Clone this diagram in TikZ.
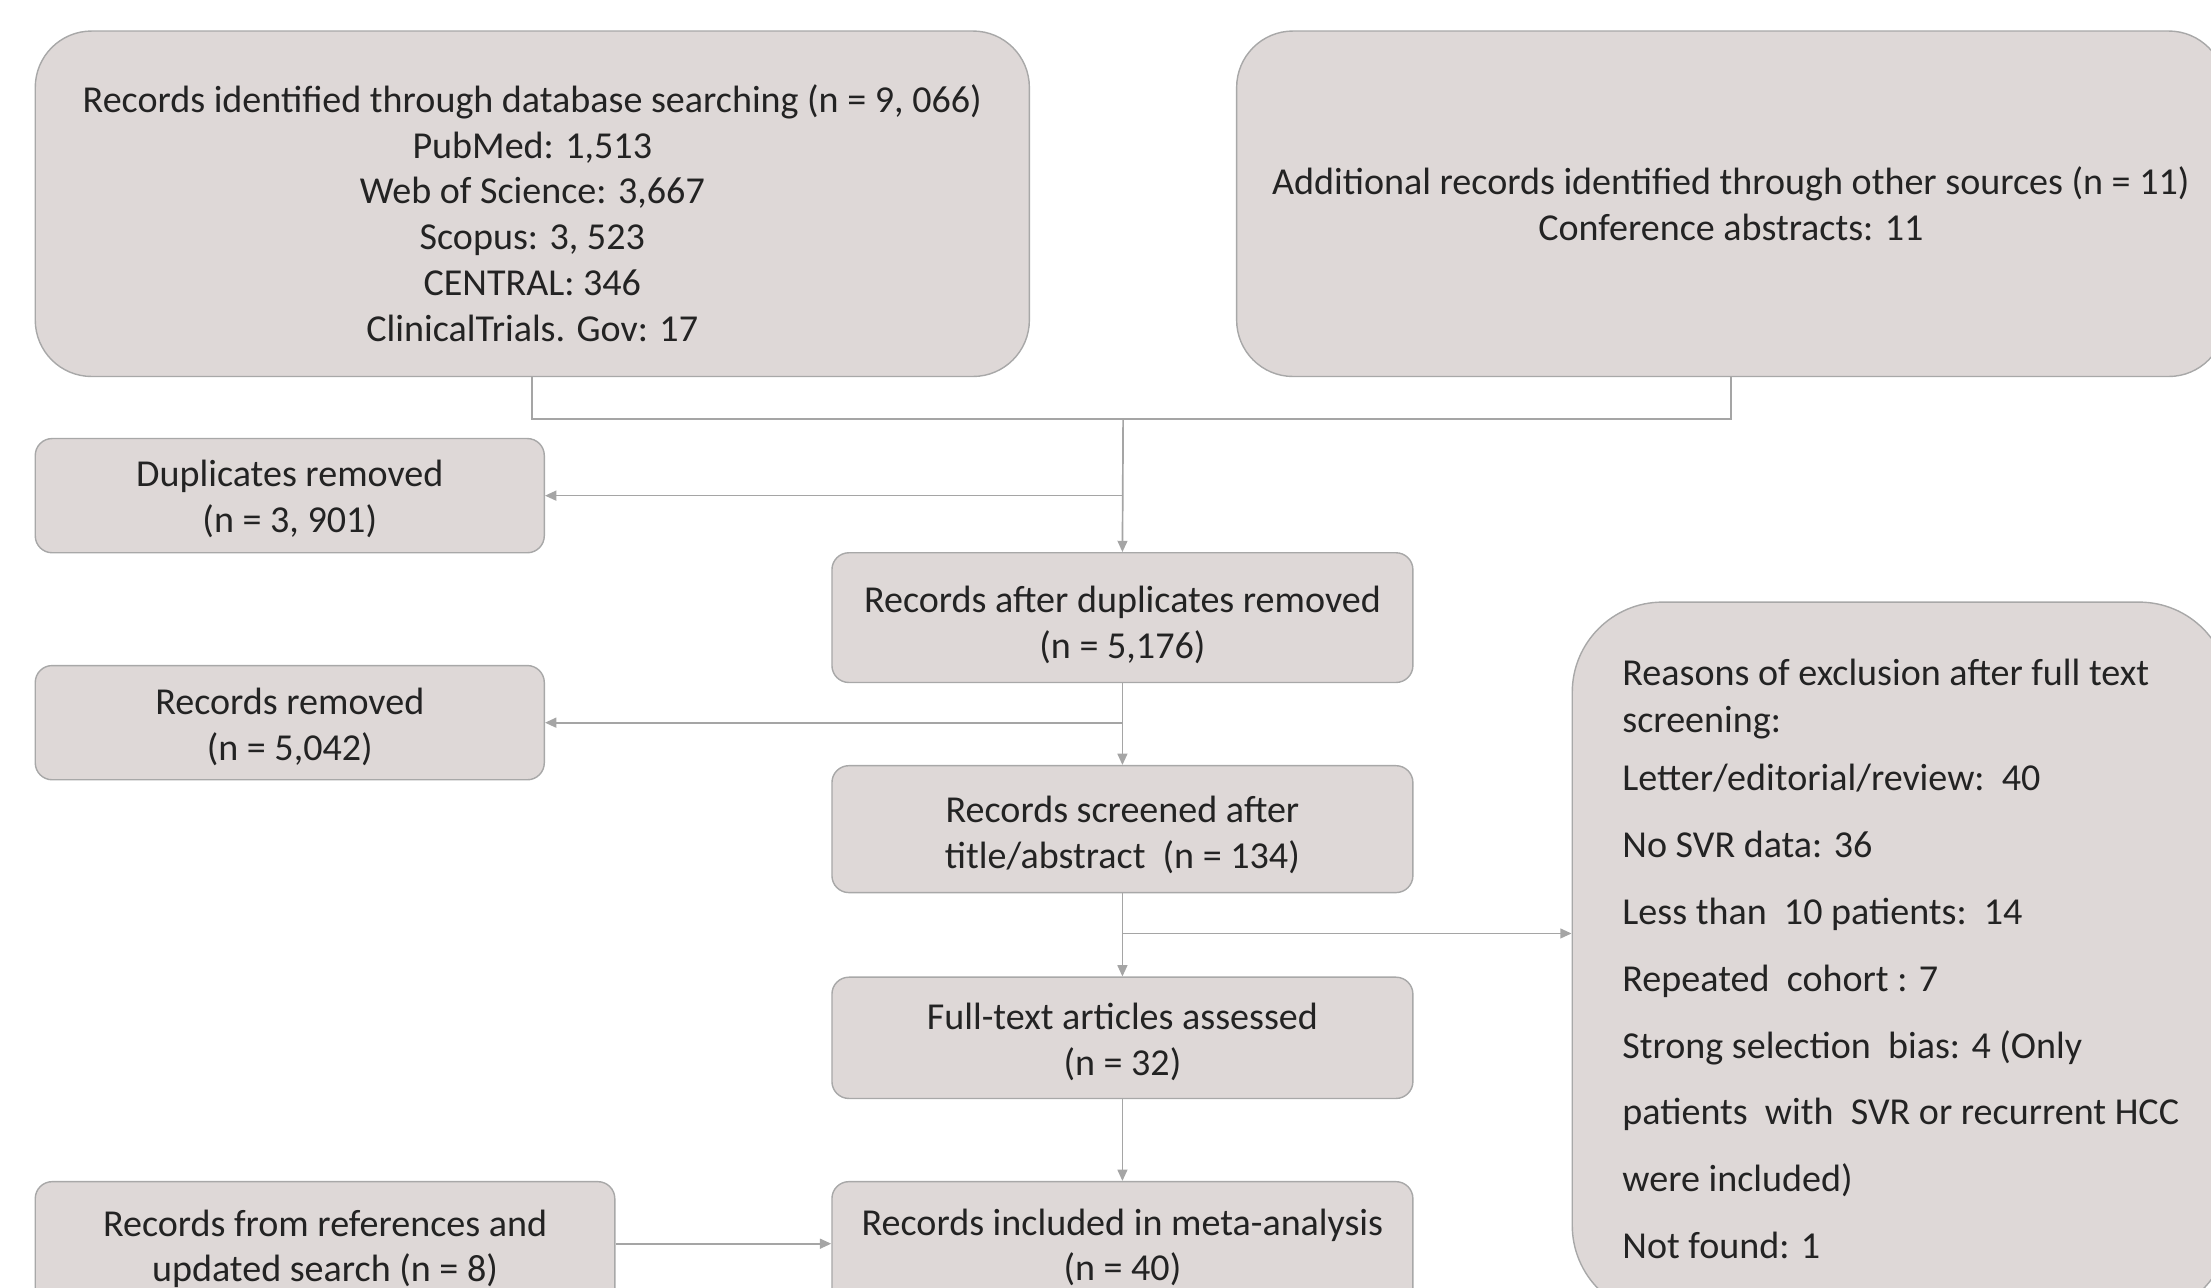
\documentclass[tikz,border=0pt]{standalone}
\usepackage{fontspec}
\setmainfont{Carlito}
\usetikzlibrary{arrows.meta}
\definecolor{boxfill}{RGB}{222,216,215}
\definecolor{boxline}{RGB}{168,168,168}
\definecolor{conn}{RGB}{165,165,165}
\definecolor{txt}{RGB}{35,35,35}
\newcommand\liftline[1]{\rule{0pt}{#1}}
\begin{document}
\begin{tikzpicture}[x=1pt,y=-1pt,
  box/.style={draw=boxline, fill=boxfill, line width=1pt, rounded corners=12pt,
    inner sep=0pt, align=center, text=txt, font=\fontsize{27}{32.5}\selectfont},
  bigbox/.style={box, rounded corners=40pt},
  reasonbox/.style={box, rounded corners=64pt, align=left},
  conline/.style={draw=conn, line width=1.2pt},
  arr/.style={conline, -{Triangle[length=8pt,width=7pt]}}]
\useasboundingbox (0,0) rectangle (1568,913);

% top boxes
\node[bigbox, minimum width=705pt, minimum height=245pt] (db) at (377.5,144.5)
  {\liftline{33pt}Records identified through database searching (n = 9, 066)\\
   PubMed: 1,513\\ Web of Science: 3,667\\ Scopus: 3, 523\\ CENTRAL: 346\\ ClinicalTrials. Gov: 17};
\node[bigbox, minimum width=701pt, minimum height=245pt] (other) at (1227.5,144.5)
  {Additional records identified through other sources (n = 11)\\ Conference abstracts: 11};

% left boxes
\node[box, minimum width=361pt, minimum height=81pt] (dup) at (205.5,351.5)
  {\liftline{23pt}Duplicates removed\\ (n = 3, 901)};
\node[box, minimum width=361pt, minimum height=81pt] (rem) at (205.5,512.5)
  {\liftline{25pt}Records removed\\ (n = 5,042)};
\node[box, minimum width=411pt, minimum height=92pt] (refs) at (230.5,884)
  {\liftline{22pt}Records from references and\\ updated search (n = 8)};

% centre column
\node[box, minimum width=412pt, minimum height=92pt] (after) at (796,438)
  {\liftline{29pt}Records after duplicates removed\\ (n = 5,176)};
\node[box, minimum width=412pt, minimum height=90pt] (screen) at (796,588)
  {\liftline{27pt}Records screened after\\ title/abstract\ \ (n = 134)};
\node[box, minimum width=412pt, minimum height=86pt] (full) at (796,736)
  {\liftline{25pt}Full-text articles assessed\\ (n = 32)};
\node[box, minimum width=412pt, minimum height=92pt] (incl) at (796,884)
  {\liftline{20pt}Records included in meta-analysis\\ (n = 40)};

% reasons
\node[reasonbox, minimum width=466pt, minimum height=506pt] (why) at (1348,680)
  {Reasons of exclusion after full text\\[0.5pt]
   screening:\\[9pt]
   Letter/editorial/review:\ \ 40\\[15pt]
   No SVR data: 36\\[15pt]
   Less than\ \ 10 patients:\ \ 14\\[15pt]
   Repeated\ \ cohort : 7\\[15pt]
   Strong selection\ \ bias: 4 (Only\\[14pt]
   patients\ \ with\ \ SVR or recurrent HCC\\[15pt]
   were included)\\[15pt]
   Not found: 1};

% junction coordinates
\coordinate (j1) at (796.5,297);
\coordinate (j2) at (796.5,351.5);
\coordinate (j3) at (796.5,512.5);
\coordinate (j4) at (796.5,662);
\coordinate (j5) at (796.5,882);

% connectors
\draw[conline] (db.south) |- (j1) -| (other.south);
\draw[arr] (j1) -- (after.north);
\draw[arr] (j2) -- (dup.east);
\draw[arr] (after.south) -- (screen.north);
\draw[arr] (j3) -- (rem.east);
\draw[arr] (screen.south) -- (full.north);
\draw[arr] (j4) -- (j4 -| why.west);
\draw[arr] (full.south) -- (incl.north);
\draw[arr] (refs.east |- j5) -- (incl.west |- j5);
\end{tikzpicture}
\end{document}
